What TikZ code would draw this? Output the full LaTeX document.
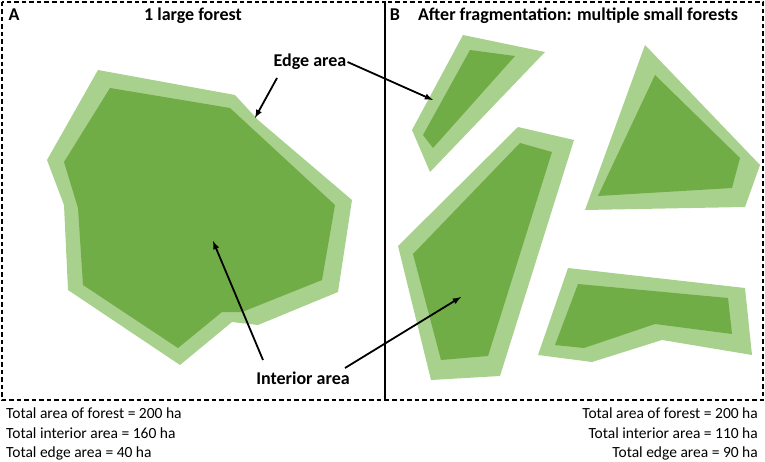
\documentclass[tikz,border=0pt]{standalone}
\usepackage{fontspec}
\setmainfont{Carlito}
\begin{document}
\begin{tikzpicture}[x=1pt,y=-1pt,
  outer/.style={fill=lg,draw=none},
  inner/.style={fill=dg,draw=none},
  frame/.style={draw,dash pattern=on 4.5pt off 3pt,line width=1.2pt},
  ttl/.style={font=\bfseries\fontsize{18}{20}\selectfont,inner sep=0},
  lbl/.style={font=\bfseries\fontsize{18}{20}\selectfont,inner sep=1pt},
  stat/.style={font=\fontsize{15.5}{17}\selectfont,inner sep=0},
  arr/.style={-latex,line width=1.8pt}]
\definecolor{lg}{HTML}{A9D18E}
\definecolor{dg}{HTML}{70AD47}
\useasboundingbox (0,0) rectangle (765,462);
\draw[frame] (2,2) rectangle (385,400);
\draw[frame] (385,2) rectangle (763,400);
\node[ttl] (la) at (14,15) {A};
\node[ttl] (ta) at (193,16) {1 large forest};
\node[ttl] (lb) at (395,15) {B};
\node[ttl] (tb) at (578,16) {After fragmentation: multiple small forests};
% large forest
\fill[outer] (98,70)--(235,95)--(258,120)--(352,200)--(338,292)--(258,325)--(232,322)--(180,365)--(68,290)--(64,205)--(47,160)--cycle;
\fill[inner] (110,88)--(230,108)--(335,205)--(322,280)--(242,312)--(222,312)--(178,348)--(83,285)--(78,208)--(64,162)--cycle;
% small forests
\fill[outer] (463,35)--(545,52)--(430,172)--(412,130)--cycle;
\fill[inner] (470,50)--(515,56)--(433,148)--(423,135)--cycle;
\fill[outer] (518,127)--(574,140)--(500,376)--(431,380)--(398,246)--cycle;
\fill[inner] (520,143)--(552,152)--(488,356)--(441,360)--(413,254)--cycle;
\fill[outer] (645,45)--(760,165)--(745,207)--(585,210)--cycle;
\fill[inner] (655,75)--(740,158)--(732,188)--(598,196)--cycle;
\fill[outer] (568,268)--(745,288)--(752,355)--(662,340)--(592,362)--(538,355)--cycle;
\fill[inner] (578,284)--(728,298)--(732,334)--(655,324)--(584,348)--(555,345)--cycle;
% labels
\node[lbl] (edge) at (310,62) {Edge area};
\node[lbl] (inter) at (303,378) {Interior area};
\coordinate (e0) at (277,78);
\coordinate (e1) at (255,118);
\coordinate (e2) at (433,100);
\coordinate (i0) at (263,360);
\coordinate (i1) at (213,241);
\coordinate (i3) at (345,368);
\coordinate (i2) at (461,297);
\draw[arr] (e0) -- (e1);
\draw[arr] (edge.east) -- (e2);
\draw[arr] (i0) -- (i1);
\draw[arr] (i3) -- (i2);
\node[stat,anchor=west] (s1) at (6,413) {Total area of forest = 200 ha};
\node[stat,anchor=west] (s2) at (6,433) {Total interior area = 160 ha};
\node[stat,anchor=west] (s3) at (6,453) {Total edge area = 40 ha};
\node[stat,anchor=east] (r1) at (758,413) {Total area of forest = 200 ha};
\node[stat,anchor=east] (r2) at (758,433) {Total interior area = 110 ha};
\node[stat,anchor=east] (r3) at (758,453) {Total edge area = 90 ha};
\end{tikzpicture}
\end{document}
